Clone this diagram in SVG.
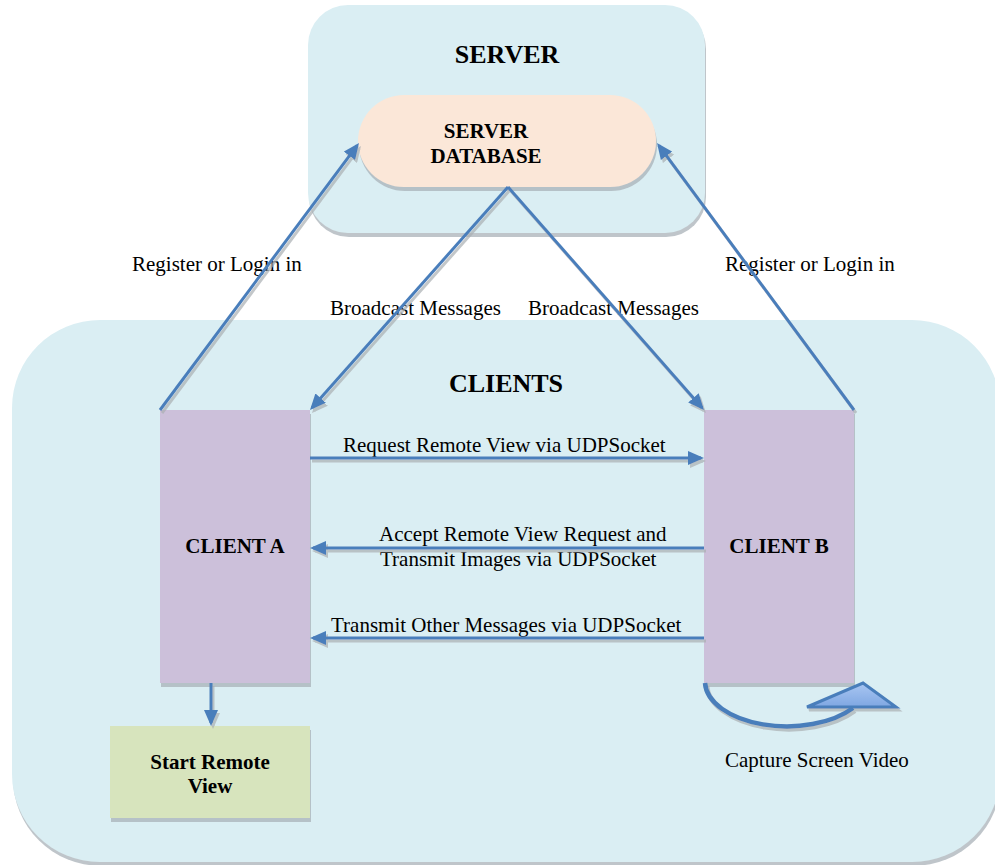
<svg xmlns="http://www.w3.org/2000/svg" width="995" height="865" viewBox="0 0 995 865">
<style>
  .bg{fill:#DAEEF3}
  .pill{fill:#FBE7D8}
  .client{fill:#CCC0DA}
  .green{fill:#D7E4BD}
  .head{font-family:"Liberation Serif","Times New Roman",serif;font-weight:bold;font-size:26px;fill:#000;text-anchor:middle}
  .bold{font-family:"Liberation Serif","Times New Roman",serif;font-weight:bold;font-size:21px;fill:#000;text-anchor:middle}
  .lbl{font-family:"Liberation Serif","Times New Roman",serif;font-size:21px;fill:#000}
  .ln{stroke:#4A7EBB;stroke-width:3;fill:none;marker-end:url(#ah)}
</style>
<defs>
  <filter id="sh" filterUnits="userSpaceOnUse" x="0" y="0" width="995" height="865">
    <feOffset in="SourceAlpha" dx="1" dy="4" result="o"/>
    <feFlood flood-color="#A9B2B8" flood-opacity="0.75"/>
    <feComposite in2="o" operator="in"/>
    <feMerge><feMergeNode/><feMergeNode in="SourceGraphic"/></feMerge>
  </filter>
  <filter id="lsh" filterUnits="userSpaceOnUse" x="0" y="0" width="995" height="865">
    <feOffset in="SourceAlpha" dx="2" dy="3" result="o"/>
    <feFlood flood-color="#A9AEB2" flood-opacity="0.7"/>
    <feComposite in2="o" operator="in"/>
    <feMerge><feMergeNode/><feMergeNode in="SourceGraphic"/></feMerge>
  </filter>
  <marker id="ah" markerUnits="userSpaceOnUse" markerWidth="16" markerHeight="14" refX="13" refY="7" orient="auto">
    <path d="M0,0 L16,7 L0,14 z" fill="#4A7EBB"/>
  </marker>
  <linearGradient id="tri" x1="0" y1="0" x2="0" y2="1">
    <stop offset="0" stop-color="#A9C6F2"/>
    <stop offset="1" stop-color="#7FA7E2"/>
  </linearGradient>
</defs>

<g id="server" filter="url(#sh)">
  <rect class="bg" x="308" y="5" width="397" height="228" rx="40"/>
</g>
<g id="clients" filter="url(#sh)">
  <rect class="bg" x="12" y="320" width="988" height="542" rx="88"/>
</g>
<text class="head" x="507" y="63">SERVER</text>
<text class="head" x="506" y="392">CLIENTS</text>

<g id="server-database" filter="url(#sh)">
  <rect class="pill" x="358" y="95" width="298" height="92" rx="46"/>
</g>
<text class="bold" x="486" y="138">SERVER</text>
<text class="bold" x="486" y="163">DATABASE</text>

<g id="client-a" filter="url(#sh)">
  <rect class="client" x="160" y="410" width="150" height="273"/>
</g>
<text class="bold" x="235" y="553">CLIENT A</text>

<g id="client-b" filter="url(#sh)">
  <rect class="client" x="704" y="410" width="150" height="273"/>
</g>
<text class="bold" x="779" y="553">CLIENT B</text>

<g id="start-remote-view" filter="url(#sh)">
  <rect class="green" x="110" y="726" width="200" height="92"/>
</g>
<text class="bold" x="210" y="769">Start Remote</text>
<text class="bold" x="210" y="793">View</text>

<g id="labels">
  <text class="lbl" x="132" y="271">Register or Login in</text>
  <text class="lbl" x="725" y="271">Register or Login in</text>
  <text class="lbl" x="330" y="315">Broadcast Messages</text>
  <text class="lbl" x="528" y="315">Broadcast Messages</text>
  <text class="lbl" x="343" y="452">Request Remote View via UDPSocket</text>
  <text class="lbl" x="379" y="541">Accept Remote View Request and</text>
  <text class="lbl" x="380" y="566">Transmit Images via UDPSocket</text>
  <text class="lbl" x="331" y="632">Transmit Other Messages via UDPSocket</text>
  <text class="lbl" x="725" y="767">Capture Screen Video</text>
</g>

<g id="connectors" filter="url(#lsh)">
  <path class="ln" d="M160,410 L357.2,145.4"/>
  <path class="ln" d="M854,410 L658.8,145.4"/>
  <path class="ln" d="M508,187 L312,407.8"/>
  <path class="ln" d="M508,187 L702,407.7"/>
  <path class="ln" d="M310,458 L701,458"/>
  <path class="ln" d="M704,548 L313,548"/>
  <path class="ln" d="M704,638 L313,638"/>
  <path class="ln" d="M211,683 L211,723"/>
  <path d="M705,683 A82,45 0 0 0 853,708" stroke="#4A7EBB" stroke-width="4.5" fill="none"/>
  <path d="M807,707 L863,683 L896,707 Z" fill="url(#tri)" stroke="#4A7EBB" stroke-width="3" stroke-linejoin="miter"/>
</g>
</svg>
